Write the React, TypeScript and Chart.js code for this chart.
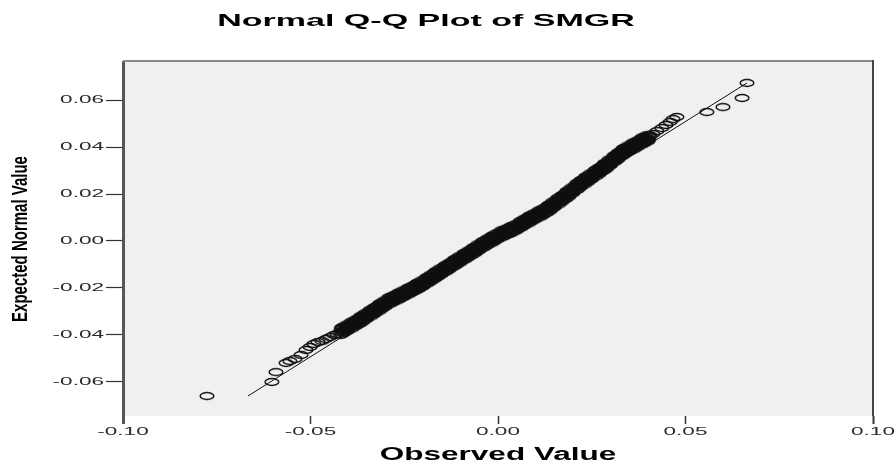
import { useEffect, useRef } from 'react';
import { Chart, registerables } from 'chart.js';

Chart.register(...registerables);

// ---- data ----
const lowerTailObserved = [-0.0776, -0.0603, -0.0592, -0.0565, -0.0555, -0.0541, -0.0525, -0.0512, -0.0501, -0.0491, -0.048, -0.0469, -0.0459, -0.0448, -0.0437, -0.0429];
const lowerTailExpected = [-0.066, -0.06, -0.0558, -0.0519, -0.0511, -0.0502, -0.0485, -0.0464, -0.0451, -0.0438, -0.043, -0.0426, -0.0417, -0.0409, -0.04, -0.0396];

const centralObserved = [
  -0.042, -0.0415, -0.041, -0.0405, -0.04, -0.0395, -0.039, -0.0385, -0.038, -0.0375,
  -0.037, -0.0365, -0.036, -0.0355, -0.035, -0.0345, -0.034, -0.0335, -0.033, -0.0325,
  -0.032, -0.0315, -0.031, -0.0305, -0.03, -0.0295, -0.029, -0.0285, -0.028, -0.0275,
  -0.027, -0.0265, -0.026, -0.0255, -0.025, -0.0245, -0.024, -0.0235, -0.023, -0.0225,
  -0.022, -0.0215, -0.021, -0.0205, -0.02, -0.0195, -0.019, -0.0185, -0.018, -0.0175,
  -0.017, -0.0165, -0.016, -0.0155, -0.015, -0.0145, -0.014, -0.0135, -0.013, -0.0125,
  -0.012, -0.0115, -0.011, -0.0105, -0.01, -0.0095, -0.009, -0.0085, -0.008, -0.0075,
  -0.007, -0.0065, -0.006, -0.0055, -0.005, -0.0045, -0.004, -0.0035, -0.003, -0.0025,
  -0.002, -0.0015, -0.001, -0.0005, 0.0, 0.0005, 0.001, 0.0015, 0.002, 0.0025,
  0.003, 0.0035, 0.004, 0.0045, 0.005, 0.0055, 0.006, 0.0065, 0.007, 0.0075,
  0.008, 0.0085, 0.009, 0.0095, 0.01, 0.0105, 0.011, 0.0115, 0.012, 0.0125,
  0.013, 0.0135, 0.014, 0.0145, 0.015, 0.0155, 0.016, 0.0165, 0.017, 0.0175,
  0.018, 0.0185, 0.019, 0.0195, 0.02, 0.0205, 0.021, 0.0215, 0.022, 0.0225,
  0.023, 0.0235, 0.024, 0.0245, 0.025, 0.0255, 0.026, 0.0265, 0.027, 0.0275,
  0.028, 0.0285, 0.029, 0.0295, 0.03, 0.0305, 0.031, 0.0315, 0.032, 0.0325,
  0.033, 0.0335, 0.034, 0.0345, 0.035, 0.0355, 0.036, 0.0365, 0.037, 0.0375,
  0.038, 0.0385, 0.039, 0.0395, 0.04, 0.0405,
];
const centralExpected = [
  -0.0386, -0.0372, -0.0385, -0.0368, -0.0373, -0.0356, -0.036, -0.0362, -0.0343, -0.0343,
  -0.0339, -0.0324, -0.0336, -0.0319, -0.0323, -0.0305, -0.0309, -0.0311, -0.029, -0.029,
  -0.0286, -0.0271, -0.0283, -0.0266, -0.027, -0.0252, -0.0257, -0.026, -0.0241, -0.0242,
  -0.0239, -0.0226, -0.0239, -0.0223, -0.0229, -0.0212, -0.0216, -0.0219, -0.02, -0.02,
  -0.0197, -0.0184, -0.0197, -0.018, -0.0185, -0.0167, -0.017, -0.0172, -0.0152, -0.0152,
  -0.0148, -0.0133, -0.0145, -0.0128, -0.0133, -0.0115, -0.0119, -0.0121, -0.0101, -0.01,
  -0.0096, -0.0082, -0.0094, -0.0077, -0.0082, -0.0064, -0.0068, -0.007, -0.005, -0.005,
  -0.0046, -0.0032, -0.0044, -0.0026, -0.0031, -0.0013, -0.0017, -0.0019, 0.0001, 0.0,
  0.0004, 0.0017, 0.0005, 0.0021, 0.0016, 0.0033, 0.0028, 0.0024, 0.0043, 0.0042,
  0.0044, 0.0057, 0.0043, 0.0059, 0.0054, 0.0072, 0.0068, 0.0066, 0.0086, 0.0085,
  0.0089, 0.0103, 0.009, 0.0106, 0.0101, 0.0118, 0.0113, 0.011, 0.013, 0.0129,
  0.0134, 0.0149, 0.0138, 0.0156, 0.0152, 0.0171, 0.0167, 0.0166, 0.0187, 0.0188,
  0.0193, 0.0209, 0.0198, 0.0216, 0.0213, 0.0232, 0.0229, 0.0229, 0.025, 0.0251,
  0.0255, 0.027, 0.0258, 0.0276, 0.0271, 0.029, 0.0287, 0.0285, 0.0306, 0.0307,
  0.0312, 0.0327, 0.0317, 0.0335, 0.0331, 0.0351, 0.0348, 0.0347, 0.0369, 0.037,
  0.0375, 0.039, 0.0377, 0.0394, 0.0388, 0.0406, 0.0401, 0.0399, 0.0418, 0.0418,
  0.0422, 0.0435, 0.0422, 0.0438, 0.0433, 0.045,
];

const centralObserved2 = [
  -0.04175, -0.04125, -0.04075, -0.04025, -0.03975, -0.03925, -0.03875, -0.03825, -0.03775, -0.03725,
  -0.03675, -0.03625, -0.03575, -0.03525, -0.03475, -0.03425, -0.03375, -0.03325, -0.03275, -0.03225,
  -0.03175, -0.03125, -0.03075, -0.03025, -0.02975, -0.02925, -0.02875, -0.02825, -0.02775, -0.02725,
  -0.02675, -0.02625, -0.02575, -0.02525, -0.02475, -0.02425, -0.02375, -0.02325, -0.02275, -0.02225,
  -0.02175, -0.02125, -0.02075, -0.02025, -0.01975, -0.01925, -0.01875, -0.01825, -0.01775, -0.01725,
  -0.01675, -0.01625, -0.01575, -0.01525, -0.01475, -0.01425, -0.01375, -0.01325, -0.01275, -0.01225,
  -0.01175, -0.01125, -0.01075, -0.01025, -0.00975, -0.00925, -0.00875, -0.00825, -0.00775, -0.00725,
  -0.00675, -0.00625, -0.00575, -0.00525, -0.00475, -0.00425, -0.00375, -0.00325, -0.00275, -0.00225,
  -0.00175, -0.00125, -0.00075, -0.00025, 0.00025, 0.00075, 0.00125, 0.00175, 0.00225, 0.00275,
  0.00325, 0.00375, 0.00425, 0.00475, 0.00525, 0.00575, 0.00625, 0.00675, 0.00725, 0.00775,
  0.00825, 0.00875, 0.00925, 0.00975, 0.01025, 0.01075, 0.01125, 0.01175, 0.01225, 0.01275,
  0.01325, 0.01375, 0.01425, 0.01475, 0.01525, 0.01575, 0.01625, 0.01675, 0.01725, 0.01775,
  0.01825, 0.01875, 0.01925, 0.01975, 0.02025, 0.02075, 0.02125, 0.02175, 0.02225, 0.02275,
  0.02325, 0.02375, 0.02425, 0.02475, 0.02525, 0.02575, 0.02625, 0.02675, 0.02725, 0.02775,
  0.02825, 0.02875, 0.02925, 0.02975, 0.03025, 0.03075, 0.03125, 0.03175, 0.03225, 0.03275,
  0.03325, 0.03375, 0.03425, 0.03475, 0.03525, 0.03575, 0.03625, 0.03675, 0.03725, 0.03775,
  0.03825, 0.03875, 0.03925, 0.03975, 0.04025,
];
const centralExpected2 = [
  -0.0372, -0.039, -0.0372, -0.0383, -0.0357, -0.0366, -0.0343, -0.0354, -0.0359, -0.0332,
  -0.0324, -0.0342, -0.0323, -0.0333, -0.0307, -0.0315, -0.0292, -0.0302, -0.0306, -0.0279,
  -0.0271, -0.0289, -0.027, -0.028, -0.0254, -0.0262, -0.024, -0.0252, -0.0257, -0.0231,
  -0.0225, -0.0244, -0.0226, -0.0238, -0.0213, -0.0222, -0.0199, -0.0211, -0.0216, -0.0189,
  -0.0183, -0.0202, -0.0184, -0.0195, -0.0169, -0.0176, -0.0153, -0.0164, -0.0168, -0.0141,
  -0.0133, -0.0151, -0.0132, -0.0143, -0.0117, -0.0125, -0.0102, -0.0113, -0.0116, -0.0089,
  -0.0082, -0.01, -0.0081, -0.0092, -0.0066, -0.0074, -0.0051, -0.0062, -0.0066, -0.0039,
  -0.0032, -0.005, -0.003, -0.0041, -0.0015, -0.0023, 0.0, -0.0011, -0.0015, 0.0012,
  0.0018, 0.0, 0.0018, 0.0007, 0.0032, 0.0023, 0.0045, 0.0032, 0.0027, 0.0053,
  0.0058, 0.0039, 0.0056, 0.0045, 0.0071, 0.0063, 0.0086, 0.0075, 0.007, 0.0097,
  0.0104, 0.0085, 0.0103, 0.0092, 0.0117, 0.0108, 0.013, 0.0119, 0.0114, 0.0141,
  0.0149, 0.0132, 0.0152, 0.0142, 0.0169, 0.0162, 0.0185, 0.0175, 0.0172, 0.02,
  0.0209, 0.0192, 0.0212, 0.0203, 0.023, 0.0223, 0.0248, 0.0238, 0.0235, 0.0263,
  0.027, 0.0253, 0.0272, 0.0262, 0.0288, 0.0281, 0.0305, 0.0294, 0.0291, 0.0319,
  0.0327, 0.0311, 0.0331, 0.0321, 0.0349, 0.0342, 0.0366, 0.0357, 0.0354, 0.0382,
  0.039, 0.0372, 0.0391, 0.0379, 0.0405, 0.0396, 0.0419, 0.0407, 0.0403, 0.043,
  0.0436, 0.0417, 0.0435, 0.0424, 0.0449,
];

const centralObserved3 = [
  -0.0419, -0.0414, -0.0409, -0.0404, -0.0399, -0.0394, -0.0389, -0.0384, -0.0379, -0.0374,
  -0.0369, -0.0364, -0.0359, -0.0354, -0.0349, -0.0344, -0.0339, -0.0334, -0.0329, -0.0324,
  -0.0319, -0.0314, -0.0309, -0.0304, -0.0299, -0.0294, -0.0289, -0.0284, -0.0279, -0.0274,
  -0.0269, -0.0264, -0.0259, -0.0254, -0.0249, -0.0244, -0.0239, -0.0234, -0.0229, -0.0224,
  -0.0219, -0.0214, -0.0209, -0.0204, -0.0199, -0.0194, -0.0189, -0.0184, -0.0179, -0.0174,
  -0.0169, -0.0164, -0.0159, -0.0154, -0.0149, -0.0144, -0.0139, -0.0134, -0.0129, -0.0124,
  -0.0119, -0.0114, -0.0109, -0.0104, -0.0099, -0.0094, -0.0089, -0.0084, -0.0079, -0.0074,
  -0.0069, -0.0064, -0.0059, -0.0054, -0.0049, -0.0044, -0.0039, -0.0034, -0.0029, -0.0024,
  -0.0019, -0.0014, -0.0009, -0.0004, 0.0001, 0.0006, 0.0011, 0.0016, 0.0021, 0.0026,
  0.0031, 0.0036, 0.0041, 0.0046, 0.0051, 0.0056, 0.0061, 0.0066, 0.0071, 0.0076,
  0.0081, 0.0086, 0.0091, 0.0096, 0.0101, 0.0106, 0.0111, 0.0116, 0.0121, 0.0126,
  0.0131, 0.0136, 0.0141, 0.0146, 0.0151, 0.0156, 0.0161, 0.0166, 0.0171, 0.0176,
  0.0181, 0.0186, 0.0191, 0.0196, 0.0201, 0.0206, 0.0211, 0.0216, 0.0221, 0.0226,
  0.0231, 0.0236, 0.0241, 0.0246, 0.0251, 0.0256, 0.0261, 0.0266, 0.0271, 0.0276,
  0.0281, 0.0286, 0.0291, 0.0296, 0.0301, 0.0306, 0.0311, 0.0316, 0.0321, 0.0326,
  0.0331, 0.0336, 0.0341, 0.0346, 0.0351, 0.0356, 0.0361, 0.0366, 0.0371, 0.0376,
  0.0381, 0.0386, 0.0391, 0.0396, 0.0401,
];
const centralExpected3 = [
  -0.04, -0.0366, -0.038, -0.0356, -0.0377, -0.0356, -0.0372, -0.0342, -0.0334, -0.0351,
  -0.0353, -0.0318, -0.0331, -0.0307, -0.0327, -0.0305, -0.0321, -0.0291, -0.0281, -0.0298,
  -0.03, -0.0265, -0.0278, -0.0254, -0.0274, -0.0252, -0.0269, -0.024, -0.0232, -0.025,
  -0.0253, -0.022, -0.0234, -0.0211, -0.0233, -0.0212, -0.0228, -0.0199, -0.0191, -0.0208,
  -0.0211, -0.0178, -0.0192, -0.0168, -0.0189, -0.0167, -0.0182, -0.0152, -0.0143, -0.016,
  -0.0162, -0.0127, -0.014, -0.0116, -0.0137, -0.0115, -0.0131, -0.0101, -0.0092, -0.0108,
  -0.011, -0.0076, -0.0089, -0.0065, -0.0086, -0.0064, -0.008, -0.005, -0.0041, -0.0058,
  -0.006, -0.0026, -0.0039, -0.0014, -0.0035, -0.0013, -0.0029, 0.0001, 0.001, -0.0008,
  -0.001, 0.0023, 0.001, 0.0033, 0.0012, 0.0033, 0.0016, 0.0044, 0.0052, 0.0034,
  0.003, 0.0063, 0.0048, 0.0071, 0.005, 0.0072, 0.0056, 0.0086, 0.0095, 0.0077,
  0.0075, 0.0109, 0.0095, 0.0118, 0.0097, 0.0118, 0.0101, 0.013, 0.0139, 0.0121,
  0.012, 0.0155, 0.0143, 0.0168, 0.0148, 0.0171, 0.0155, 0.0186, 0.0196, 0.018,
  0.0179, 0.0215, 0.0203, 0.0228, 0.0209, 0.0232, 0.0217, 0.0249, 0.0259, 0.0243,
  0.0241, 0.0276, 0.0263, 0.0288, 0.0267, 0.029, 0.0275, 0.0305, 0.0315, 0.0299,
  0.0298, 0.0333, 0.0322, 0.0347, 0.0327, 0.0351, 0.0336, 0.0367, 0.0378, 0.0362,
  0.0361, 0.0396, 0.0382, 0.0406, 0.0384, 0.0406, 0.0389, 0.0419, 0.0427, 0.041,
  0.0408, 0.0441, 0.0427, 0.045, 0.0429,
];

const centralObserved4 = [
  -0.0416, -0.0411, -0.0406, -0.0401, -0.0396, -0.0391, -0.0386, -0.0381, -0.0376, -0.0371,
  -0.0366, -0.0361, -0.0356, -0.0351, -0.0346, -0.0341, -0.0336, -0.0331, -0.0326, -0.0321,
  -0.0316, -0.0311, -0.0306, -0.0301, -0.0296, -0.0291, -0.0286, -0.0281, -0.0276, -0.0271,
  -0.0266, -0.0261, -0.0256, -0.0251, -0.0246, -0.0241, -0.0236, -0.0231, -0.0226, -0.0221,
  -0.0216, -0.0211, -0.0206, -0.0201, -0.0196, -0.0191, -0.0186, -0.0181, -0.0176, -0.0171,
  -0.0166, -0.0161, -0.0156, -0.0151, -0.0146, -0.0141, -0.0136, -0.0131, -0.0126, -0.0121,
  -0.0116, -0.0111, -0.0106, -0.0101, -0.0096, -0.0091, -0.0086, -0.0081, -0.0076, -0.0071,
  -0.0066, -0.0061, -0.0056, -0.0051, -0.0046, -0.0041, -0.0036, -0.0031, -0.0026, -0.0021,
  -0.0016, -0.0011, -0.0006, -0.0001, 0.0004, 0.0009, 0.0014, 0.0019, 0.0024, 0.0029,
  0.0034, 0.0039, 0.0044, 0.0049, 0.0054, 0.0059, 0.0064, 0.0069, 0.0074, 0.0079,
  0.0084, 0.0089, 0.0094, 0.0099, 0.0104, 0.0109, 0.0114, 0.0119, 0.0124, 0.0129,
  0.0134, 0.0139, 0.0144, 0.0149, 0.0154, 0.0159, 0.0164, 0.0169, 0.0174, 0.0179,
  0.0184, 0.0189, 0.0194, 0.0199, 0.0204, 0.0209, 0.0214, 0.0219, 0.0224, 0.0229,
  0.0234, 0.0239, 0.0244, 0.0249, 0.0254, 0.0259, 0.0264, 0.0269, 0.0274, 0.0279,
  0.0284, 0.0289, 0.0294, 0.0299, 0.0304, 0.0309, 0.0314, 0.0319, 0.0324, 0.0329,
  0.0334, 0.0339, 0.0344, 0.0349, 0.0354, 0.0359, 0.0364, 0.0369, 0.0374, 0.0379,
  0.0384, 0.0389, 0.0394, 0.0399, 0.0404,
];
const centralExpected4 = [
  -0.0368, -0.0392, -0.0365, -0.0381, -0.0362, -0.0344, -0.0361, -0.0363, -0.0334, -0.0342,
  -0.0321, -0.0344, -0.0316, -0.0332, -0.0312, -0.0293, -0.031, -0.0312, -0.0281, -0.0289,
  -0.0268, -0.0291, -0.0263, -0.0279, -0.0259, -0.024, -0.0258, -0.0261, -0.0232, -0.0241,
  -0.0221, -0.0246, -0.0219, -0.0236, -0.0218, -0.02, -0.0217, -0.022, -0.0191, -0.0199,
  -0.0179, -0.0204, -0.0177, -0.0193, -0.0174, -0.0155, -0.0171, -0.0173, -0.0143, -0.0151,
  -0.013, -0.0153, -0.0125, -0.0141, -0.0122, -0.0103, -0.012, -0.0122, -0.0092, -0.0099,
  -0.0078, -0.0102, -0.0074, -0.009, -0.0071, -0.0052, -0.0069, -0.0071, -0.0041, -0.0049,
  -0.0028, -0.0052, -0.0024, -0.0039, -0.002, -0.0001, -0.0018, -0.002, 0.001, 0.0001,
  0.0022, -0.0003, 0.0025, 0.0008, 0.0027, 0.0045, 0.0027, 0.0023, 0.0052, 0.0043,
  0.0062, 0.0037, 0.0063, 0.0046, 0.0065, 0.0084, 0.0067, 0.0065, 0.0095, 0.0086,
  0.0107, 0.0083, 0.011, 0.0093, 0.0112, 0.013, 0.0112, 0.0109, 0.0139, 0.013,
  0.0152, 0.0129, 0.0158, 0.0143, 0.0163, 0.0183, 0.0166, 0.0165, 0.0196, 0.0189,
  0.0211, 0.0189, 0.0218, 0.0203, 0.0224, 0.0244, 0.0228, 0.0228, 0.0259, 0.0252,
  0.0273, 0.025, 0.0278, 0.0263, 0.0282, 0.0302, 0.0286, 0.0284, 0.0315, 0.0308,
  0.033, 0.0307, 0.0337, 0.0322, 0.0342, 0.0363, 0.0347, 0.0346, 0.0378, 0.0371,
  0.0393, 0.037, 0.0397, 0.0381, 0.0399, 0.0418, 0.04, 0.0398, 0.0427, 0.0419,
  0.044, 0.0415, 0.0442, 0.0425, 0.0444,
];

const upperTailObserved = [0.0413, 0.0424, 0.0437, 0.0448, 0.0459, 0.0467, 0.0477, 0.0557, 0.06, 0.0651, 0.0664];
const upperTailExpected = [0.0456, 0.0468, 0.0481, 0.0494, 0.0507, 0.0519, 0.0528, 0.0549, 0.057, 0.0609, 0.0673];

// reference (normal) line end points
const refLineObserved = [-0.0667, 0.0664];
const refLineExpected = [-0.066, 0.0673];

// axes
const xTickValues = [-0.1, -0.05, 0, 0.05, 0.1];
const yTickValues = [-0.06, -0.04, -0.02, 0, 0.02, 0.04, 0.06];
const xRange = [-0.1, 0.1];
const yRange = [-0.0745, 0.0762];

const chartTitle = 'Normal Q-Q Plot of SMGR';
const xTitle = 'Observed Value';
const yTitle = 'Expected Normal Value';

// ---- styling ----
const FONT = "'Liberation Sans', Arial, sans-serif";
// horizontal stretch of text by font size (the reference image is stretched sideways)
const TEXT_STRETCH: Record<number, number> = { 11: 2.05, 15: 1.5, 17: 2.0, 18: 1.75 };

function patchStretch(ctx: CanvasRenderingContext2D) {
  if ((ctx as any).__stretched) return;
  (ctx as any).__stretched = true;
  const orig = ctx.fillText;
  (ctx as any).fillText = function (text: string, x: number, y: number, maxWidth?: number) {
    const m = /(\d+(?:\.\d+)?)px/.exec(ctx.font);
    const size = m ? Math.round(parseFloat(m[1])) : 0;
    const sx = TEXT_STRETCH[size] ?? 1;
    const t = ctx.getTransform();
    const p = t.transformPoint(new DOMPoint(x, y));
    ctx.save();
    ctx.setTransform(new DOMMatrix().translate(p.x, p.y).scale(sx, 1).translate(-p.x, -p.y).multiply(t));
    if (maxWidth === undefined) orig.call(ctx, text, x, y);
    else orig.call(ctx, text, x, y, maxWidth);
    ctx.restore();
  };
}

function makeEllipseMarker(): HTMLCanvasElement {
  const c = document.createElement('canvas');
  c.width = 18;
  c.height = 12;
  const g = c.getContext('2d')!;
  g.strokeStyle = '#111';
  g.lineWidth = 1.5;
  g.beginPath();
  g.ellipse(9, 6, 6.8, 3.4, 0, 0, Math.PI * 2);
  g.stroke();
  return c;
}

const framePlugin = {
  id: 'qqFrame',
  beforeDraw(chart: any) {
    const { ctx, chartArea: a } = chart;
    ctx.save();
    ctx.fillStyle = '#f0f0f0';
    ctx.fillRect(a.left, a.top, a.right - a.left, a.bottom - a.top);
    ctx.restore();
  },
  afterDraw(chart: any) {
    const { ctx, chartArea: a } = chart;
    ctx.save();
    ctx.lineWidth = 2;
    ctx.strokeStyle = '#8a8a8a';
    ctx.beginPath();
    ctx.moveTo(a.left, a.top - 1);
    ctx.lineTo(a.right, a.top - 1);
    ctx.stroke();
    ctx.strokeStyle = '#444';
    ctx.beginPath();
    ctx.moveTo(a.right, a.top - 2);
    ctx.lineTo(a.right, a.bottom);
    ctx.stroke();
    ctx.restore();
  },
};

export default function App() {
  const ref = useRef<HTMLCanvasElement | null>(null);

  useEffect(() => {
    const canvas = ref.current;
    if (!canvas) return;
    const ctx = canvas.getContext('2d')!;
    patchStretch(ctx);

    const observed = [
      ...lowerTailObserved,
      ...centralObserved,
      ...centralObserved2,
      ...centralObserved3,
      ...centralObserved4,
      ...upperTailObserved,
    ];
    const expected = [
      ...lowerTailExpected,
      ...centralExpected,
      ...centralExpected2,
      ...centralExpected3,
      ...centralExpected4,
      ...upperTailExpected,
    ];
    const points = observed.map((x, i) => ({ x, y: expected[i] }));
    const linePts = refLineObserved.map((x, i) => ({ x, y: refLineExpected[i] }));
    const marker = makeEllipseMarker();

    const chart = new Chart(ctx, {
      type: 'scatter',
      data: {
        datasets: [
          {
            label: 'Observed',
            data: points,
            pointStyle: marker as any,
            pointRadius: 4,
            order: 0,
          },
          {
            label: 'Line',
            data: linePts,
            showLine: true,
            borderColor: '#111',
            borderWidth: 1,
            pointRadius: 0,
            order: 1,
          } as any,
        ],
      },
      plugins: [framePlugin],
      options: {
        animation: false,
        responsive: false,
        events: [],
        layout: { padding: { left: 0, right: 23, top: 0, bottom: 0 } },
        plugins: {
          legend: { display: false },
          tooltip: { enabled: false },
          title: {
            display: true,
            text: chartTitle,
            color: '#000',
            font: { family: FONT, size: 17, weight: 'bold', lineHeight: 1.2 },
            padding: { top: 11, bottom: 30.6 },
          },
        },
        scales: {
          x: {
            type: 'linear',
            position: 'bottom',
            min: xRange[0],
            max: xRange[1],
            bounds: 'data',
            afterBuildTicks: (s: any) => {
              s.ticks = xTickValues.map((v) => ({ value: v }));
            },
            afterFit: (s: any) => {
              s.height = 48;
            },
            ticks: {
              callback: (v: any) => Number(v).toFixed(2),
              font: { family: FONT, size: 11 },
              color: '#2a2a2a',
              padding: 1,
              maxRotation: 0,
              autoSkip: false,
            },
            grid: {
              drawOnChartArea: false,
              drawTicks: true,
              tickLength: 8,
              tickColor: (c: any) => (c.index === 0 ? '#555' : '#333'),
              tickWidth: (c: any) => (c.index === 0 ? 3 : c.index === xTickValues.length - 1 ? 2 : 1.5),
            },
            border: { display: false },
            title: {
              display: true,
              text: xTitle,
              color: '#000',
              font: { family: FONT, size: 18, weight: 'bold', lineHeight: 1 },
              padding: { top: 0, bottom: 0 },
            },
          },
          y: {
            type: 'linear',
            min: yRange[0],
            max: yRange[1],
            bounds: 'data',
            afterBuildTicks: (s: any) => {
              s.ticks = yTickValues.map((v) => ({ value: v }));
            },
            afterFit: (s: any) => {
              s.width = 144;
            },
            ticks: {
              callback: (v: any) => Number(v).toFixed(2),
              font: { family: FONT, size: 11 },
              color: '#2a2a2a',
              padding: 2,
            },
            grid: {
              drawOnChartArea: false,
              drawTicks: true,
              tickLength: 17,
              tickColor: '#333',
              tickWidth: 1.2,
            },
            border: { display: true, color: '#555', width: 3 },
            title: {
              display: true,
              text: yTitle,
              color: '#000',
              font: { family: FONT, size: 15, weight: 'bold', lineHeight: 1.2 },
              padding: { top: 32.5, bottom: 0 },
            },
          },
        },
      } as any,
    });

    return () => {
      chart.destroy();
    };
  }, []);

  return (
    <div
      style={{
        position: 'fixed',
        left: 0,
        top: 0,
        width: 896,
        height: 464,
        overflow: 'hidden',
        background: '#ffffff',
      }}
    >
      <canvas
        ref={ref}
        width={917}
        height={464}
        style={{ position: 'absolute', left: -21, top: 0, width: 917, height: 464 }}
      />
    </div>
  );
}
